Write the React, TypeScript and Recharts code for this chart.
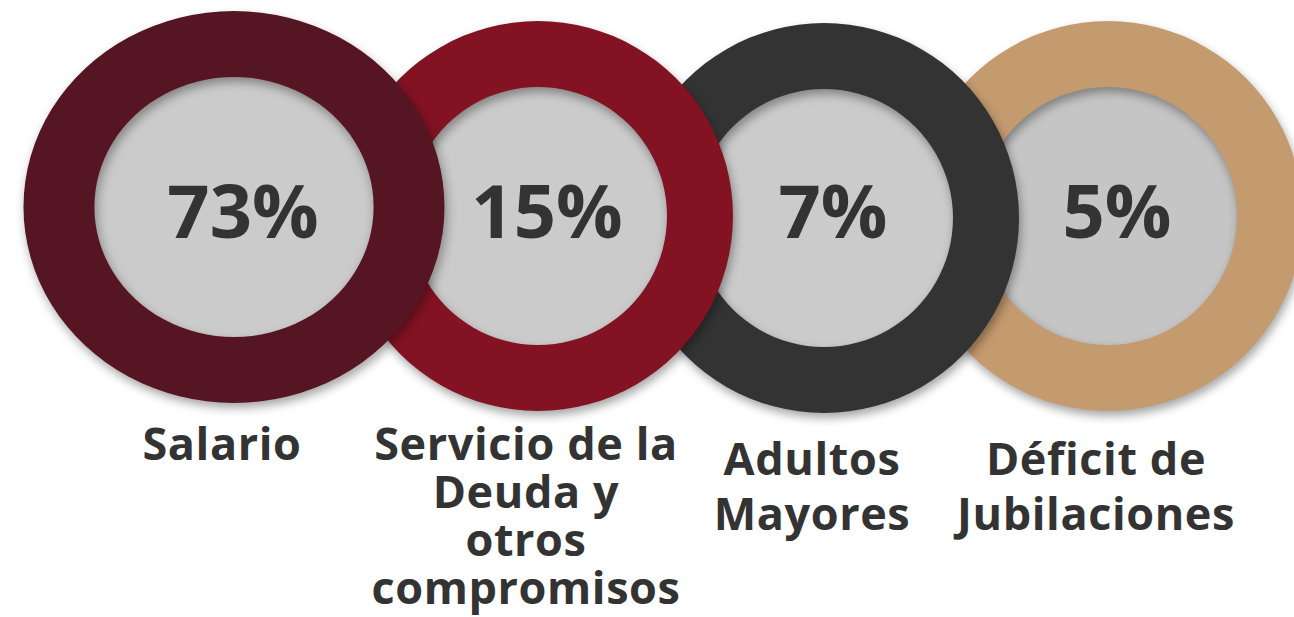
import React from "react";
import { PieChart, Pie, Cell } from "recharts";

// values
const categories = ["Salario", "Servicio de la Deuda y otros compromisos", "Adultos Mayores", "Déficit de Jubilaciones"];
const shares = [73, 15, 7, 5];
const labelLines = [
  ["Salario"],
  ["Servicio de la", "Deuda y", "otros", "compromisos"],
  ["Adultos", "Mayores"],
  ["Déficit de", "Jubilaciones"],
];
const ringColors = ["#561522", "#831323", "#333333", "#c49a6f"];
const innerColors = ["#cbcbcb", "#cbcbcb", "#cbcbcb", "#c5c5c5"];

// layout
const centers = [
  { cx: 234, cy: 207 },
  { cx: 538, cy: 216 },
  { cx: 824, cy: 218 },
  { cx: 1108, cy: 216 },
];
const outerR = [196, 195, 195, 195];
const innerR = [130, 129, 129, 129];
const stretchOuter = [1.074, 1, 1, 1];
const stretchInner = [1.11, 1, 1, 1];
const VALUE_BASELINE = 238;

const FONT = "'Open Sans', 'Liberation Sans', sans-serif";
const TEXT = "#333333";

const App: React.FC = () => {
  const rows = categories.map((name, i) => ({ name, value: shares[i] }));

  const renderLabel = (i: number) => (props: any) => {
    const { cx } = props;
    const lines = labelLines[i];
    const lineH = lines.length > 2 ? 48 : 55;
    const firstY = lines.length === 2 ? 475 : 460;
    return (
      <g>
        <text
          x={cx + 9}
          y={VALUE_BASELINE}
          textAnchor="middle"
          fontFamily={FONT}
          fontWeight={700}
          fontSize={74}
          fill={TEXT}
        >
          {`${shares[i]}%`}
        </text>
        <text
          textAnchor="middle"
          fontFamily={FONT}
          fontWeight={700}
          fontSize={45}
          letterSpacing={0.6}
          fill={TEXT}
        >
          {lines.map((line, k) => (
            <tspan key={k} x={cx - 12} y={firstY + k * lineH}>
              {line}
            </tspan>
          ))}
        </text>
      </g>
    );
  };

  // draw right to left so the left circle sits on top
  const order = [3, 2, 1, 0];

  return (
    <div style={{ position: "absolute", left: 0, top: 0, width: 1294, height: 617, background: "#fff" }}>
      <PieChart width={1294} height={617} margin={{ top: 0, right: 0, bottom: 0, left: 0 }}>
        {order.flatMap((i) => [
          <Pie
            key={`inner-${i}`}
            data={[rows[i]]}
            dataKey="value"
            nameKey="name"
            cx={centers[i].cx}
            cy={centers[i].cy}
            innerRadius={0}
            outerRadius={innerR[i] + 4}
            stroke="none"
            isAnimationActive={false}
          >
            <Cell
              fill={innerColors[i]}
              style={{
                transform: `scaleX(${stretchInner[i]})`,
                transformOrigin: `${centers[i].cx}px ${centers[i].cy}px`,
              }}
            />
          </Pie>,
          <Pie
            key={`ring-${i}`}
            data={[rows[i]]}
            dataKey="value"
            nameKey="name"
            cx={centers[i].cx}
            cy={centers[i].cy}
            innerRadius={innerR[i]}
            outerRadius={outerR[i]}
            stroke="none"
            label={renderLabel(i)}
            labelLine={false}
            isAnimationActive={false}
          >
            <Cell
              fill={ringColors[i]}
              style={{
                transform: `scaleX(${stretchOuter[i]})`,
                transformOrigin: `${centers[i].cx}px ${centers[i].cy}px`,
                filter: "drop-shadow(2px 5px 5px rgba(0,0,0,0.35))",
              }}
            />
          </Pie>,
        ])}
      </PieChart>
    </div>
  );
};

export default App;
